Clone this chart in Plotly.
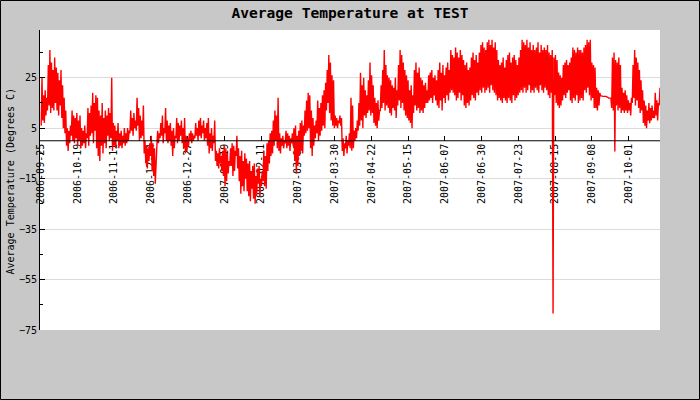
import pandas as pd
import plotly.graph_objects as go

# ---------------- data ----------------
start_date = "2006-09-26"

daily_high = [
    25, 18, 20, 17, 30, 36, 31, 28, 33, 29,
    27, 24, 28, 22, 17, 12, 5, 4, 6, 12,
    10, 9, 11, 8, 10, 5, 4, 6, 3, 13,
    11, 14, 19, 15, 18, 17, 12, 10, 15, 9,
    12, 10, 13, 11, 25, 7, 6, 4, 7, 3,
    4, 2, 5, 3, 5, 4, 12, 9, 11, 8,
    17, 13, 10, 8, 14, 0, -2, -3, -1, 2,
    -1, -3, -4, 4, 3, 7, 10, 5, 13, 8,
    6, 7, 4, 5, 2, 9, 7, 6, 8, 5,
    9, 2, 1, 3, 4, 3, 2, 7, 5, 8,
    9, 6, 8, 5, 7, 9, 3, 5, 2, 8,
    -4, -5, -3, -6, -4, -2, -3, -5, -8, -3,
    -1, -2, -4, 2, -3, -6, -4, -8, -5, -7,
    -9, -8, -12, -10, -9, -14, -11, -10, -15, -12,
    -4, -6, -1, 0, 3, 4, 8, 12, 10, 17,
    3, 1, 2, 0, 4, 3, 2, 1, 3, 5,
    6, 2, 4, 7, 8, 6, 12, 16, 19, 18,
    12, 9, 6, 8, 16, 13, 15, 18, 20, 23,
    28, 34, 31, 26, 24, 10, 9, 8, 10, 9,
    1, -1, 2, 0, 3, 17, 14, 4, 5, 8,
    15, 27, 22, 25, 20, 18, 24, 31, 26, 22,
    17, 15, 16, 12, 22, 28, 36, 30, 26, 25,
    24, 22, 21, 25, 20, 30, 36, 34, 31, 28,
    26, 24, 20, 22, 18, 28, 31, 27, 29, 25,
    24, 22, 23, 20, 26, 27, 28, 25, 26, 24,
    28, 31, 27, 30, 26, 29, 31, 28, 36, 34,
    33, 37, 35, 33, 36, 34, 32, 30, 31, 28,
    29, 33, 35, 32, 34, 31, 35, 38, 39, 37,
    36, 39, 40, 38, 40, 37, 39, 36, 32, 30,
    31, 33, 29, 32, 34, 35, 31, 33, 34, 32,
    30, 33, 36, 40, 39, 38, 40, 37, 39, 36,
    38, 36, 37, 39, 35, 38, 36, 37, 36, 38,
    35, 34, 36, 33, 34, 32, 27, 26, 25, 30,
    31, 32, 30, 31, 33, 37, 36, 35, 37, 36,
    36, 35, 37, 38, 40, 39, 40, 31, 30, 29,
    21, 20, 19, 17.8, 17.6, 17.6, 17.6, 17.3, 16.9, 16.9,
    33, 35, 32, 31, 33, 30, 21, 19, 20, 18,
    16, 15, 17, 30, 36, 33, 31, 28, 24, 20,
    16, 14, 12, 15, 13, 14, 12, 19, 16, 15, 21,
]

daily_low = [
    6, 8, 7, 10, 12, 14, 11, 13, 12, 15,
    12, 10, 14, 9, 5, 3, -2, -4, -1, 2,
    0, -1, 1, -2, 0, -3, -2, -1, -3, 1,
    -2, 2, 3, -1, 4, -3, -6, -8, -2, -5,
    -1, -3, 2, 0, 1, -4, -2, -3, 0, -3,
    -2, -3, -1, -2, -1, 0, 3, 4, 2, 5,
    4, 6, 0, 1, 2, -5, -9, -11, -8, -6,
    -12, -14, -17, -2, -1, 1, 2, -1, 3, 0,
    -1, 0, -2, -6, -3, 1, -1, 0, 2, -1,
    -3, -5, -4, -2, 0, -1, 0, 1, 2, 0,
    2, 1, 3, 0, 1, -2, -5, -3, -4, -1,
    -8, -10, -11, -9, -12, -14, -18, -16, -13, -10,
    -10, -14, -12, -6, -11, -16, -21, -18, -20, -15,
    -20, -22, -24, -19, -23, -25, -21, -17, -22, -18,
    -16, -18, -19, -12, -9, -6, -5, -2, 0, -3,
    -4, -5, -2, -3, -1, -3, -2, -4, -1, -2,
    -8, -13, -10, -6, -4, -5, 2, 3, 4, 5,
    -3, -6, -2, 1, 3, 0, 2, 4, 6, 5,
    12, 15, 11, 8, 6, 5, 6, 5, 7, 6,
    -4, -6, -3, -5, -2, -3, -4, -3, 0, 1,
    4, 6, 8, 5, 10, 9, 11, 12, 10, 11,
    7, 6, 5, 8, 12, 13, 15, 12, 14, 13,
    11, 10, 13, 12, 9, 14, 16, 13, 15, 12,
    10, 9, 8, 7, 5, 11, 14, 12, 13, 11,
    12, 11, 13, 15, 15, 16, 17, 15, 18, 16,
    14, 13, 16, 12, 17, 15, 18, 16, 19, 20,
    19, 18, 16, 17, 19, 16, 18, 14, 13, 15,
    14, 16, 18, 17, 16, 19, 18, 20, 19, 21,
    19, 20, 21, 19, 22, 20, 19, 18, 16, 17,
    16, 15, 17, 16, 15, 17, 16, 15, 18, 16,
    17, 18, 19, 20, 19, 21, 19, 20, 22, 19,
    20, 19, 21, 20, 19, 22, 20, 19, 21, 20,
    18, 17, 19, -68.5, 18, 15, 14, 13, 14, 16,
    18, 17, 19, 20, 16, 15, 17, 16, 18, 15,
    16, 17, 16, 20, 19, 21, 18, 16, 17, 13,
    13, 12, 14, 17.8, 17.6, 17.6, 17.6, 17.3, 16.9, 16.9,
    13, 12, -4.3, 14, 12, 13, 11, 12, 11, 12,
    11, 12, 10, 15, 17, 14, 16, 13, 11, 12,
    7, 6, 5, 8, 7, 8, 9, 9, 10, 8, 14,
]

tick_labels = [
    "2006-09-25", "2006-10-19", "2006-11-11", "2006-12-04", "2006-12-27",
    "2007-01-19", "2007-02-11", "2007-03-06", "2007-03-30", "2007-04-22",
    "2007-05-15", "2007-06-07", "2007-06-30", "2007-07-23", "2007-08-15",
    "2007-09-08", "2007-10-01",
]
y_major_ticks = [-75, -55, -35, -15, 5, 25]
y_minor_ticks = [-65, -45, -25, -5, 15, 35]

assert len(daily_high) == len(daily_low)

# ---------------- build series ----------------
days = pd.date_range(start_date, periods=len(daily_high), freq="D")
xs, ys = [], []
for d, lo, hi in zip(days, daily_low, daily_high):
    xs += [d + pd.Timedelta(hours=5), d + pd.Timedelta(hours=17)]
    ys += [lo, hi]

tick0 = pd.Timestamp("2006-09-25 21:36")
tick_step = pd.Timedelta(days=23.19)
tickvals = [tick0 + k * tick_step for k in range(len(tick_labels))]
x_range = [tick0 - pd.Timedelta(days=0.44), tick0 + pd.Timedelta(days=390.8)]
y_range = [-75, 43.9]
zero_pos = (0 - y_range[0]) / (y_range[1] - y_range[0])

MONO = "DejaVu Sans Mono"

fig = go.Figure()
fig.add_trace(go.Scatter(x=xs, y=ys, mode="lines",
                         line=dict(color="#ff0000", width=1.4),
                         hoverinfo="skip", showlegend=False))

L, R, T, B = 40, 40, 30, 70
PW, PH = 700 - L - R, 400 - T - B

fig.update_layout(
    width=700, height=400,
    margin=dict(l=L, r=R, t=T, b=B, pad=0),
    paper_bgcolor="#c8c8c8",
    plot_bgcolor="#ffffff",
    showlegend=False,
    title=dict(text="Average Temperature at TEST",
               font=dict(family=MONO, size=14.6, color="#000000", weight="bold"),
               x=0.5, xref="paper", xanchor="center",
               y=1 - 12.5 / 400, yref="container", yanchor="middle"),
    xaxis=dict(
        type="date", range=x_range,
        tickmode="array", tickvals=tickvals, ticktext=tick_labels,
        tickangle=-90, ticks="inside", ticklen=5, tickcolor="#000000",
        tickfont=dict(family=MONO, size=10, color="#000000"),
        showline=False, showgrid=False, zeroline=False,
        anchor="free", position=zero_pos, layer="below traces",
    ),
    yaxis=dict(
        range=y_range,
        tickmode="array", tickvals=y_major_ticks,
        ticks="inside", ticklen=5, tickcolor="#000000",
        tickfont=dict(family=MONO, size=10, color="#000000"),
        showline=True, linecolor="#000000", linewidth=1,
        showgrid=True, gridcolor="#dcdcdc", gridwidth=1,
        zeroline=False,
        minor=dict(tickmode="array", tickvals=y_minor_ticks, ticks="inside",
                   ticklen=3, tickcolor="#000000", showgrid=False),
    ),
    shapes=[
        dict(type="line", xref="paper", x0=0, x1=1, yref="y", y0=0, y1=0,
             line=dict(color="#000000", width=1), layer="above"),
        dict(type="rect", xref="paper", yref="paper",
             x0=-(L - 0.5) / PW, x1=1 + (R - 0.5) / PW,
             y0=-(B - 0.5) / PH, y1=1 + (T - 0.5) / PH,
             line=dict(color="#000000", width=1), fillcolor="rgba(0,0,0,0)",
             layer="below"),
    ],
    annotations=[
        dict(text="Average Temperature (Degrees C)", textangle=-90,
             xref="paper", x=(10 - L) / PW, xanchor="center",
             yref="paper", y=(330 - 181.5) / PH, yanchor="middle",
             showarrow=False,
             font=dict(family=MONO, size=10, color="#000000")),
    ],
)

fig.write_html("out.html")
